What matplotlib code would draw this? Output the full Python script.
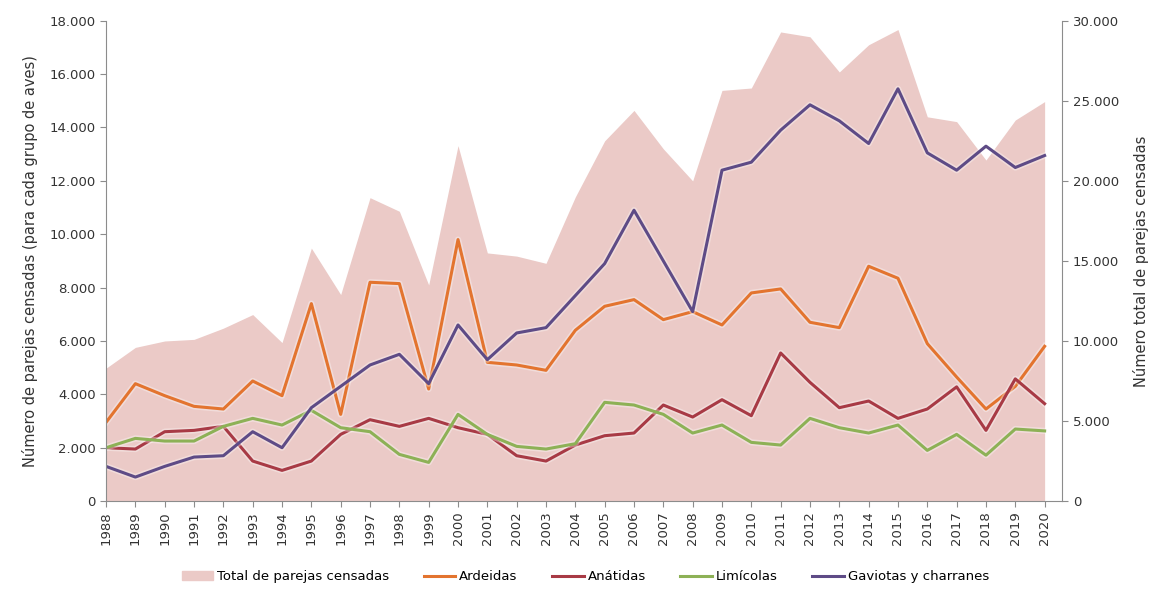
import matplotlib.pyplot as plt
import matplotlib.patheffects as pe
from matplotlib.patches import Patch
from matplotlib.ticker import FuncFormatter

plt.rcParams['font.family'] = ['DejaVu Sans']

years = list(range(1988, 2021))

# parejas censadas por grupo (eje izquierdo)
ardeidas = [2950, 4400, 3950, 3550, 3450, 4500, 3950, 7400, 3250, 8200, 8150,
            4200, 9800, 5200, 5100, 4900, 6400, 7300, 7550, 6800, 7100, 6600,
            7800, 7950, 6700, 6500, 8800, 8350, 5900, 4650, 3450, 4300, 5800]
anatidas = [2000, 1950, 2600, 2650, 2800, 1500, 1150, 1500, 2500, 3050, 2800,
            3100, 2750, 2500, 1700, 1500, 2100, 2450, 2550, 3600, 3150, 3800,
            3200, 5550, 4450, 3500, 3750, 3100, 3450, 4280, 2650, 4580, 3650]
limicolas = [2000, 2350, 2250, 2250, 2800, 3100, 2850, 3400, 2750, 2600, 1750,
             1450, 3250, 2500, 2050, 1950, 2150, 3700, 3600, 3250, 2550, 2850,
             2200, 2100, 3100, 2750, 2550, 2850, 1900, 2500, 1720, 2700, 2630]
gaviotas = [1300, 900, 1300, 1650, 1700, 2600, 2000, 3500, 4300, 5100, 5500,
            4400, 6600, 5300, 6300, 6500, 7700, 8900, 10900, 9000, 7100, 12400,
            12700, 13900, 14850, 14250, 13400, 15450, 13050, 12400, 13300, 12500, 12950]

# total de parejas (eje derecho)
total = [8300, 9600, 10000, 10100, 10800, 11650, 9900, 15800, 12900, 18950, 18100,
         13500, 22200, 15500, 15300, 14850, 19000, 22500, 24400, 22000, 20000, 25650,
         25800, 29300, 29000, 26800, 28500, 29450, 24000, 23700, 21300, 23800, 24950]

c_total = '#EBCAC7'
c_ard = '#E3742F'
c_ana = '#A83A45'
c_lim = '#8DB156'
c_gav = '#5E4B86'
c_axis = '#8C8C8C'

fig = plt.figure(figsize=(11.59, 5.93), dpi=100)
ax = fig.add_axes([0.0915, 0.155, 0.825, 0.81])
ax2 = ax.twinx()

ax2.fill_between(years, total, 0, color=c_total, linewidth=0)
ax.set_zorder(ax2.get_zorder() + 1)
ax.patch.set_visible(False)

halo = [pe.Stroke(linewidth=4.5, foreground='white', alpha=0.35), pe.Normal()]
series = [(ardeidas, c_ard, 'Ardeidas'),
          (anatidas, c_ana, 'Anátidas'),
          (limicolas, c_lim, 'Limícolas'),
          (gaviotas, c_gav, 'Gaviotas y charranes')]
handles = [Patch(color=c_total, label='Total de parejas censadas')]
for vals, col, lab in series:
    ln, = ax.plot(years, vals, color=col, linewidth=2.2, label=lab, path_effects=halo)
    handles.append(ln)

ax.set_xlim(1988, 2020.6)
ax.set_ylim(0, 18000)
ax2.set_ylim(0, 30000)
ax.set_yticks(range(0, 18001, 2000))
ax2.set_yticks(range(0, 30001, 5000))
fmt = FuncFormatter(lambda v, p: f'{int(v):,}'.replace(',', '.'))
ax.yaxis.set_major_formatter(fmt)
ax2.yaxis.set_major_formatter(fmt)
ax.set_xticks(years)
ax.set_xticklabels([str(y) for y in years], rotation=90)

for a in (ax, ax2):
    for s in a.spines.values():
        s.set_color(c_axis)
    a.spines['top'].set_visible(False)
    a.tick_params(colors=c_axis, labelcolor='#333333', labelsize=9.5, length=4)
ax.spines['right'].set_visible(False)
ax2.spines['left'].set_visible(False)
ax2.spines['bottom'].set_visible(False)

ax.set_ylabel('Número de parejas censadas (para cada grupo de aves)', fontsize=10.5, color='#333333', labelpad=8)
ax2.set_ylabel('Número total de parejas censadas', fontsize=10.5, color='#333333', labelpad=10)

fig.legend(handles=handles, loc='center', bbox_to_anchor=(0.505, 0.027), ncol=5,
           frameon=False, fontsize=9.5, handlelength=2.4, columnspacing=2.6,
           handletextpad=0.3)

fig.savefig('out.png', dpi=100)
